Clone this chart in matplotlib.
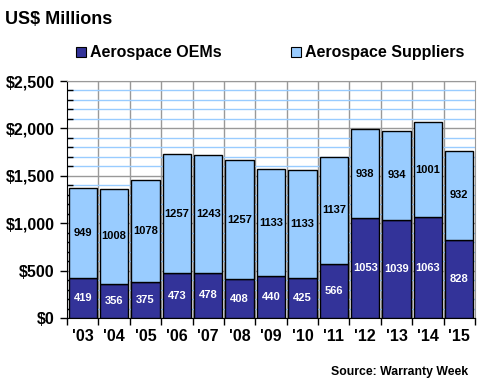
import numpy as np
import matplotlib
matplotlib.use('Agg')
import matplotlib.pyplot as plt
from matplotlib.ticker import MultipleLocator, FixedLocator, FuncFormatter

plt.rcParams['font.family'] = ['Liberation Sans', 'DejaVu Sans']
plt.rcParams['font.weight'] = 'bold'

years = ["'03", "'04", "'05", "'06", "'07", "'08", "'09", "'10", "'11", "'12", "'13", "'14", "'15"]
oems = [419, 356, 375, 473, 478, 408, 440, 425, 566, 1053, 1039, 1063, 828]
suppliers = [949, 1008, 1078, 1257, 1243, 1257, 1133, 1133, 1137, 938, 934, 1001, 932]

c_oem = '#333399'
c_sup = '#99CCFF'

fig = plt.figure(figsize=(4.8, 3.9), dpi=100)
ax = fig.add_axes([67/480, 72/390, 408/480, 237/390])

x = np.arange(len(years))
oem = np.array(oems)
sup = np.array(suppliers)

ax.bar(x, oem, width=0.9, color=c_oem, edgecolor='black', linewidth=1, zorder=3)
ax.bar(x, sup, bottom=oem, width=0.9, color=c_sup, edgecolor='black', linewidth=1, zorder=3)

for i in range(len(x)):
    ax.text(x[i], oem[i] / 2, str(oem[i]), ha='center', va='center',
            color='white', fontsize=8, fontweight='bold', zorder=4)
    ax.text(x[i], oem[i] + sup[i] / 2, str(sup[i]), ha='center', va='center',
            color='black', fontsize=8, fontweight='bold', zorder=4)

ax.set_xlim(-0.5, len(years) - 0.5)
ax.set_ylim(0, 2500)

# grid: grey major, light blue minor, grey verticals between bars
ax.yaxis.set_major_locator(MultipleLocator(500))
ax.yaxis.set_minor_locator(MultipleLocator(100))
ax.grid(axis='y', which='minor', color='#99CCFF', linewidth=1, zorder=0)
ax.grid(axis='y', which='major', color='#999999', linewidth=1, zorder=1)
for b in np.arange(0.5, len(years) - 1, 1):
    ax.axvline(b, color='#999999', linewidth=1, zorder=1)

ax.yaxis.set_major_formatter(FuncFormatter(lambda v, p: '${:,.0f}'.format(v)))
ax.tick_params(axis='y', which='major', direction='out', length=5, width=1,
               labelsize=11.5, pad=4)
ax.tick_params(axis='y', which='minor', direction='in', length=4, width=1)

ax.set_xticks(x)
ax.set_xticklabels(years)
ax.xaxis.set_minor_locator(FixedLocator(np.arange(-0.5, len(years), 1)))
ax.tick_params(axis='x', which='major', length=0, labelsize=11.5, pad=8)
ax.tick_params(axis='x', which='minor', direction='out', length=5, width=1)
for lab in ax.get_xticklabels() + ax.get_yticklabels():
    lab.set_fontweight('bold')

ax.spines['left'].set_color('black')
ax.spines['bottom'].set_color('black')
ax.spines['top'].set_color('#999999')
ax.spines['right'].set_color('#999999')

fig.text(5/480, 1 - 20/390, 'US$ Millions', fontsize=13, fontweight='bold',
         ha='left', va='center')

h1 = plt.Rectangle((0, 0), 1, 1, facecolor=c_oem, edgecolor='black', linewidth=0.8)
h2 = plt.Rectangle((0, 0), 1, 1, facecolor=c_sup, edgecolor='black', linewidth=0.8)
fig.legend([h1, h2], ['Aerospace OEMs', 'Aerospace Suppliers'], ncol=2,
           loc='center left', bbox_to_anchor=(76/480, 1 - 53/390), frameon=False,
           prop={'size': 11.5, 'weight': 'bold'}, handlelength=0.65, handleheight=0.65,
           handletextpad=0.25, columnspacing=4.3, borderaxespad=0, borderpad=0)

fig.text(468/480, 1 - 372/390, 'Source: Warranty Week', fontsize=8.8,
         fontweight='bold', ha='right', va='center')

fig.savefig('out.png', dpi=100)
